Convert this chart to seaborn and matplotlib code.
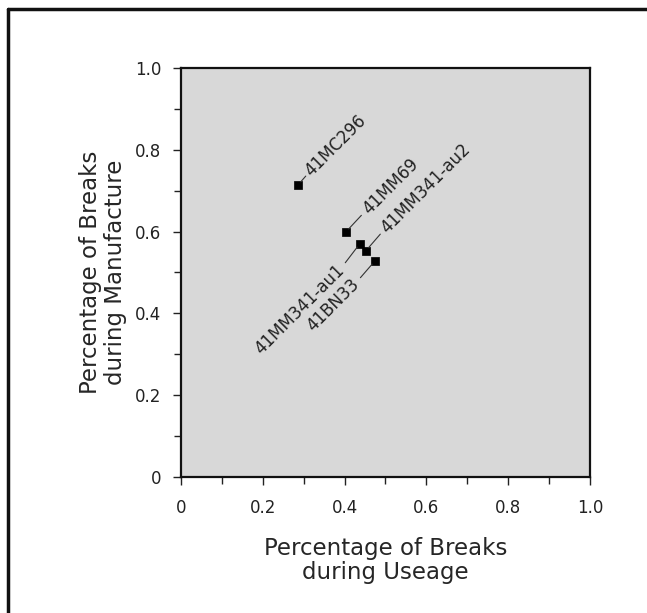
import matplotlib
matplotlib.use('Agg')
import matplotlib.pyplot as plt
import seaborn as sns
import pandas as pd
from matplotlib.lines import Line2D
from matplotlib.ticker import MultipleLocator

# data
sites = ['41MC296', '41MM69', '41MM341-au1', '41MM341-au2', '41BN33']
useage = [0.286, 0.403, 0.437, 0.452, 0.474]
manufacture = [0.714, 0.599, 0.570, 0.553, 0.528]
# label offsets (points)
offsets = [(7, 8), (14, 15), (-13, -17), (13, 15), (-13, -15)]

df = pd.DataFrame({'site': sites, 'useage': useage, 'manufacture': manufacture})

sns.set_style('ticks')
plt.rcParams['font.family'] = ['DejaVu Sans']

fig = plt.figure(figsize=(6.47, 6.13), dpi=100)
ax = fig.add_axes([0.2798, 0.222, 0.632, 0.667])
ax.set_facecolor('#d8d8d8')

sns.scatterplot(data=df, x='useage', y='manufacture', ax=ax, marker='s',
                color='black', s=40, edgecolor='black', linewidth=0.5, zorder=3)

for name, x, y, (dx, dy) in zip(df['site'], df['useage'], df['manufacture'], offsets):
    ha = 'left' if dx > 0 else 'right'
    # leader line
    ax.annotate('', xy=(x, y), xytext=(dx * 0.8, dy * 0.8), textcoords='offset points',
                arrowprops=dict(arrowstyle='-', color='#333333', lw=0.8,
                                shrinkA=0, shrinkB=3))
    ax.annotate(name, xy=(x, y), xytext=(dx, dy), textcoords='offset points',
                rotation=45, rotation_mode='anchor', ha=ha, va='center',
                fontsize=12, color='#222222')

ax.set_xlim(0, 1)
ax.set_ylim(0, 1)
ax.xaxis.set_minor_locator(MultipleLocator(0.1))
ax.yaxis.set_minor_locator(MultipleLocator(0.1))
ticklabels = ['0', '0.2', '0.4', '0.6', '0.8', '1.0']
ax.set_xticks([0, 0.2, 0.4, 0.6, 0.8, 1.0])
ax.set_xticklabels(ticklabels)
ax.set_yticks([0, 0.2, 0.4, 0.6, 0.8, 1.0])
ax.set_yticklabels(ticklabels)
ax.tick_params(which='major', direction='out', length=6, width=1, labelsize=12,
               colors='#222222', pad=8)
ax.tick_params(which='minor', direction='out', length=5, width=1, colors='#222222')
ax.tick_params(axis='x', which='major', pad=10)
for sp in ax.spines.values():
    sp.set_linewidth(1.6)
    sp.set_color('#111111')

ax.set_xlabel('Percentage of Breaks\nduring Useage', fontsize=16.5, labelpad=14,
              linespacing=1.1)
ax.set_ylabel('Percentage of Breaks\nduring Manufacture', fontsize=16.5, labelpad=6,
              linespacing=1.1)

# frame lines at the top and left of the figure
fig.add_artist(Line2D([8 / 647, 8 / 647], [0, 1 - 9 / 613], color='#111111', lw=2.5))
fig.add_artist(Line2D([8 / 647, 1], [1 - 9 / 613, 1 - 9 / 613], color='#111111', lw=2.5))

fig.savefig('out.png', dpi=100)
